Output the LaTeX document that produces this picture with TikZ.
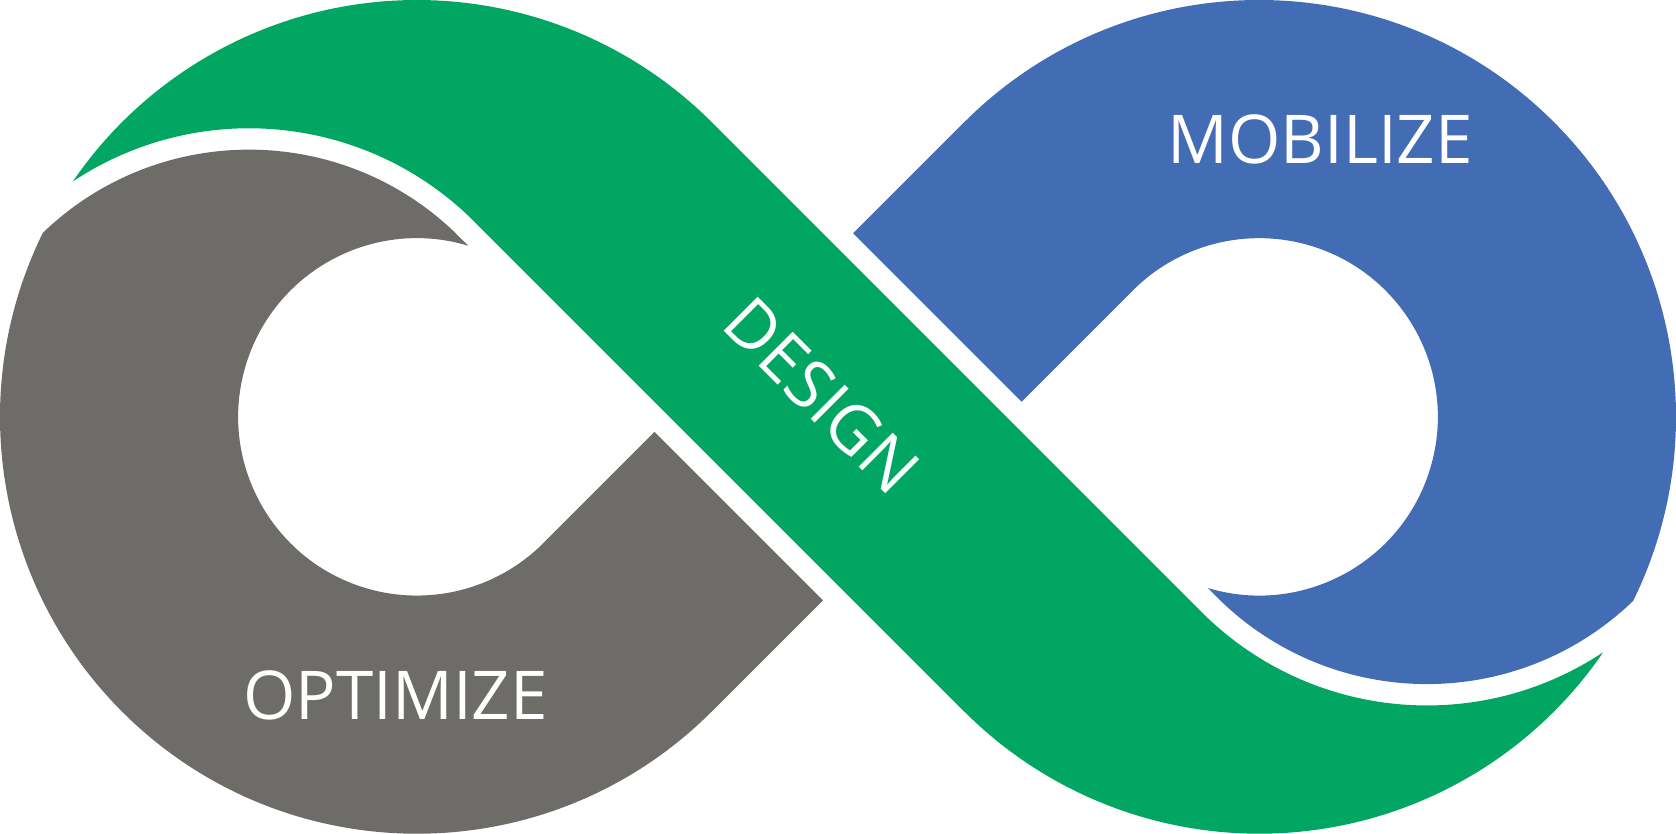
\documentclass[tikz,border=0pt]{standalone}
\usepackage{fontspec}
\setmainfont{Open Sans}
\usepackage{tikz}
\definecolor{designgreen}{HTML}{00A661}
\definecolor{mobilblue}{HTML}{426CB4}
\definecolor{optimgray}{HTML}{6D6C69}

\begin{document}
\begin{tikzpicture}[x=0.3pt, y=0.3pt,
  lbl/.style={text=white, inner sep=0pt, font=\fontsize{18.9}{20}\selectfont}]
\useasboundingbox (0,0) rectangle (1568,780);
% design band: over the left loop, across, under the right loop
\fill[designgreen] ([shift={(390,390)}]145.6:390) arc[start angle=145.6, end angle=45, radius=390]
  -- (1124.28,207.28) arc[start angle=225, end angle=303.6, radius=298]
  -- ([shift={(1178,390)}]325.6:390) arc[start angle=325.6, end angle=225, radius=390]
  -- (443.72,572.72) arc[start angle=45, end angle=123.6, radius=298] -- cycle;
% optimize loop (left)
\fill[optimgray] ([shift={(233,362)}]133.95:278) arc[start angle=133.95, end angle=45, radius=278]
  -- ([shift={(390,390)}]73.31:167.2) arc[start angle=73.31, end angle=315, radius=167.2]
  -- (612.32,375.86) -- (769.86,218.32)
  -- (665.77,114.23) arc[start angle=-45, end angle=-206.2, radius=390] -- cycle;
% mobilize loop (right)
\fill[mobilblue] ([shift={(1335,418)}]313.95:278) arc[start angle=313.95, end angle=225, radius=278]
  -- ([shift={(1178,390)}]253.31:167.2) arc[start angle=253.31, end angle=495, radius=167.2]
  -- (955.68,404.14) -- (798.14,561.68)
  -- (902.23,665.77) arc[start angle=135, end angle=-26.2, radius=390] -- cycle;
% labels
\node[lbl] (mobilize) at (1235,649.5) {MOBILIZE};
\node[lbl] (optimize) at (370,129) {OPTIMIZE};
\node[lbl, rotate=-45] (design) at (769,410) {DESIGN};
\end{tikzpicture}
\end{document}
